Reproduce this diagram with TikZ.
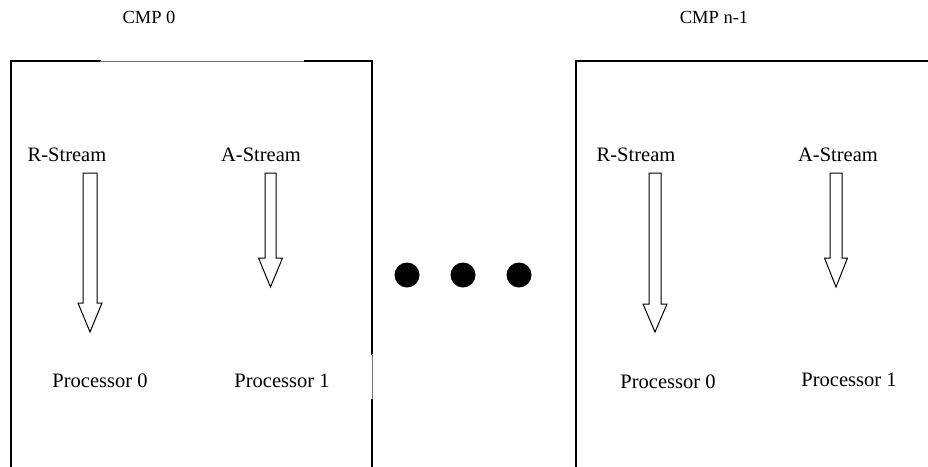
\documentclass[tikz,border=0pt]{standalone}
\usepackage{fontspec}
\setmainfont{Liberation Serif}
% block arrow pointing down: centre x, top y, head start y, tip y, half shaft, half head
\newcommand{\downflow}[6]{%
  \draw[flow] (#1-#5,#2) -- (#1+#5,#2) -- (#1+#5,#3) -- (#1+#6,#3) -- (#1,#4)
    -- (#1-#6,#3) -- (#1-#5,#3) -- cycle;}
\begin{document}
\begin{tikzpicture}[x=1pt,y=-1pt,
  wall/.style={line width=1.8pt, line cap=rect},
  thinwall/.style={line width=0.9pt, draw=black!55},
  flow/.style={draw, line width=1pt, fill=white, line join=miter},
  lbl/.style={font=\fontsize{20.5}{22}\selectfont, inner sep=0pt},
  title/.style={font=\fontsize{18.5}{20}\selectfont, inner sep=0pt},
  dot/.style={circle, fill=black, minimum size=25pt, inner sep=0pt}]
\useasboundingbox (0,0) rectangle (928,466);

% first chip: open at the bottom, thin stretches on top and right
\coordinate (L-bl) at (11,466);
\coordinate (L-tl) at (11,61);
\coordinate (L-t1) at (100,61);
\coordinate (L-t2) at (305,61);
\coordinate (L-tr) at (372,61);
\coordinate (L-r1) at (372,354);
\coordinate (L-r2) at (372,400);
\coordinate (L-br) at (372,466);
\draw[wall] (L-bl) -- (L-tl) -- (L-t1);
\draw[thinwall] (L-t1) -- (L-t2);
\draw[wall] (L-t2) -- (L-tr) -- (L-r1);
\draw[thinwall] (L-r1) -- (L-r2);
\draw[wall] (L-r2) -- (L-br);

% last chip: runs off the right edge
\coordinate (R-bl) at (576,466);
\coordinate (R-tl) at (576,61);
\coordinate (R-tr) at (930,61);
\draw[wall] (R-bl) -- (R-tl) -- (R-tr);

% titles
\node[title] (cmp0) at (149,17) {CMP 0};
\node[title] (cmpn) at (714,17) {CMP n-1};

% stream labels
\node[lbl] (lrs) at (67,155) {R-Stream};
\node[lbl] (las) at (261,155) {A-Stream};
\node[lbl] (rrs) at (636,155) {R-Stream};
\node[lbl] (ras) at (838,155) {A-Stream};

% processor labels
\node[lbl] (lp0) at (100,381) {Processor 0};
\node[lbl] (lp1) at (282,381) {Processor 1};
\node[lbl] (rp0) at (668,382) {Processor 0};
\node[lbl] (rp1) at (849,380) {Processor 1};

% stream arrows
\downflow{90}{173}{303}{332}{7}{12}
\downflow{270.5}{173}{258}{287}{5.5}{12}
\downflow{655}{173}{304}{332}{6}{12}
\downflow{836}{173}{258}{287}{6}{11.5}

% ellipsis between chips
\node[dot] (d1) at (407,275) {};
\node[dot] (d2) at (463,275) {};
\node[dot] (d3) at (519,275) {};
\end{tikzpicture}
\end{document}
